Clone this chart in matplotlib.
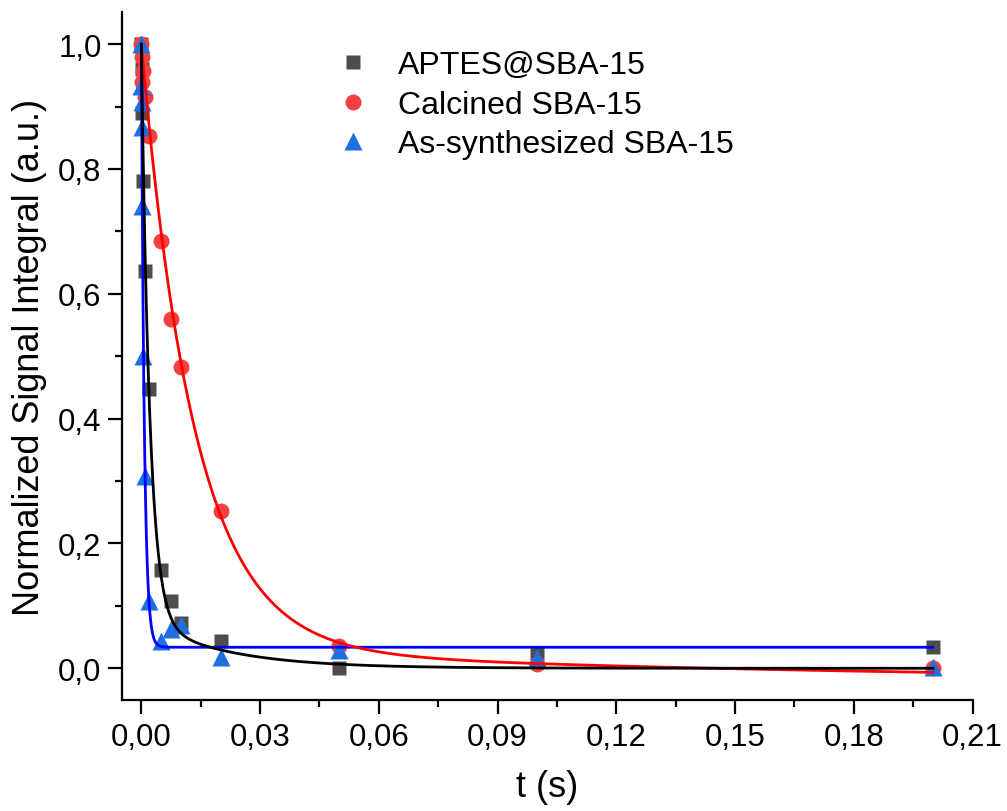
import numpy as np
import matplotlib
matplotlib.use("Agg")
import matplotlib.pyplot as plt
from matplotlib.ticker import MultipleLocator, FuncFormatter

plt.rcParams['font.family'] = ['Liberation Sans', 'DejaVu Sans']

# normalized signal integral vs delay time t (s)
t_aptes = [0, 0.0001, 0.00025, 0.0005, 0.001, 0.002, 0.005, 0.0075, 0.01, 0.02, 0.05, 0.1, 0.2]
v_aptes = [1.0, 0.96, 0.89, 0.78, 0.637, 0.447, 0.158, 0.108, 0.073, 0.043, 0.0, 0.025, 0.0345]

t_calc = [0, 0.0001, 0.00025, 0.0005, 0.001, 0.002, 0.005, 0.0075, 0.01, 0.02, 0.05, 0.1, 0.2]
v_calc = [1.0, 0.98, 0.939, 0.957, 0.915, 0.853, 0.685, 0.56, 0.482, 0.252, 0.036, 0.007, 0.0]

t_asyn = [0, 0.00002, 0.00005, 0.0001, 0.0002, 0.0005, 0.0009, 0.002, 0.005, 0.0075, 0.01, 0.02, 0.05, 0.1, 0.2]
v_asyn = [1.0, 0.933, 0.907, 0.867, 0.741, 0.50, 0.308, 0.108, 0.043, 0.063, 0.07, 0.0176, 0.030, 0.0165, 0.0026]

labels = ['APTES@SBA-15', 'Calcined SBA-15', 'As-synthesized SBA-15']

# fit parameters (y0 + A1*exp(-t/tau1) + A2*exp(-t/tau2))
aptes_y0, aptes_A1, aptes_tau1, aptes_A2, aptes_tau2 = 0.0, 0.92, 0.0021, 0.08, 0.02
calc_y0, calc_A1, calc_tau1, calc_A2, calc_tau2 = -0.024, 0.969, 0.0135, 0.055, 0.174
asyn_y0, asyn_A1, asyn_tau1 = 0.0337, 0.966, 0.00075


def biexp(t, y0, a1, tau1, a2=0.0, tau2=1.0):
    return y0 + a1 * np.exp(-t / tau1) + a2 * np.exp(-t / tau2)


t_fit = np.concatenate([np.linspace(0, 0.006, 600), np.linspace(0.006, 0.2, 800)])

fig = plt.figure(figsize=(10.07, 8.12), dpi=100)
ax = fig.add_axes([0.1215, 0.1371, 0.8443, 0.8465])

ax.plot(t_aptes, v_aptes, 's', ms=10, color='#4d4d4d', mec='none', label=labels[0], zorder=2)
ax.plot(t_calc, v_calc, 'o', ms=11.5, color='#f44040', mec='none', label=labels[1], zorder=2)
ax.plot(t_asyn, v_asyn, '^', ms=13, color='#1e6fe0', mec='none', label=labels[2], zorder=2)

ax.plot(t_fit, biexp(t_fit, asyn_y0, asyn_A1, asyn_tau1), color='#0000ff', lw=2, zorder=3)
ax.plot(t_fit, biexp(t_fit, calc_y0, calc_A1, calc_tau1, calc_A2, calc_tau2), color='#ff0000', lw=2, zorder=3)
ax.plot(t_fit, biexp(t_fit, aptes_y0, aptes_A1, aptes_tau1, aptes_A2, aptes_tau2), color='black', lw=2, zorder=3)

ax.set_xlim(-0.0048, 0.21)
ax.set_ylim(-0.0503, 1.0509)

ax.xaxis.set_major_locator(MultipleLocator(0.03))
ax.xaxis.set_minor_locator(MultipleLocator(0.015))
ax.yaxis.set_major_locator(MultipleLocator(0.2))
ax.yaxis.set_minor_locator(MultipleLocator(0.1))
ax.xaxis.set_major_formatter(FuncFormatter(lambda x, p: f"{x:.2f}".replace('.', ',')))
ax.yaxis.set_major_formatter(FuncFormatter(lambda y, p: f"{y:.1f}".replace('.', ',')))

for s in ['top', 'right']:
    ax.spines[s].set_visible(False)
for s in ['left', 'bottom']:
    ax.spines[s].set_linewidth(1.6)

ax.tick_params(which='major', direction='out', length=10, width=1.6, labelsize=22.5)
ax.tick_params(which='minor', direction='out', length=5, width=1.6)
ax.tick_params(axis='x', pad=6)
ax.tick_params(axis='y', pad=5)

ax.set_xlabel('t (s)', fontsize=26, labelpad=12)
ax.set_ylabel('Normalized Signal Integral (a.u.)', fontsize=26, labelpad=8)

ax.legend(loc='upper left', bbox_to_anchor=(0.3347, 0.937), bbox_transform=fig.transFigure,
          frameon=False, fontsize=23, handlelength=1.0, handletextpad=0.9,
          borderpad=0, borderaxespad=0, labelspacing=0.3, numpoints=1)

fig.savefig('out.png', dpi=100)
